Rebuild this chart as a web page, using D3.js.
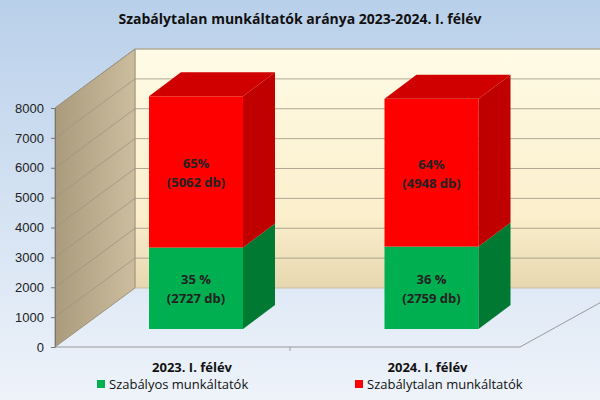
<!DOCTYPE html>
<html><head><meta charset="utf-8">
<script src="https://cdn.jsdelivr.net/npm/d3@7"></script>
<style>body{margin:0}svg{display:block;font-family:"Open Sans",Arial,sans-serif}</style>
</head><body><svg id="c" width="600" height="400"></svg>
<script>
const categories = ["2023. I. félév", "2024. I. félév"];
const regular = [2727, 2759];
const irregular = [5062, 4948];
const regularPct = ["35 %", "36 %"];
const irregularPct = ["65%", "64%"];
const yTicks = [0,1000,2000,3000,4000,5000,6000,7000,8000];
const seriesNames = ["Szabályos munkáltatók", "Szabálytalan munkáltatók"];

const svg = d3.select("#c");
const defs = svg.append("defs");
const bg = defs.append("linearGradient").attr("id","bg").attr("x1",0).attr("y1",0).attr("x2",0).attr("y2",1);
bg.append("stop").attr("offset",0).attr("stop-color","#b9d0ea");
bg.append("stop").attr("offset",1).attr("stop-color","#eef3fa");
const wall = defs.append("linearGradient").attr("id","wall").attr("x1",0).attr("y1",0).attr("x2",0).attr("y2",1);
wall.append("stop").attr("offset",0).attr("stop-color","#fffbe6");
wall.append("stop").attr("offset",0.7).attr("stop-color","#fbefcc");
wall.append("stop").attr("offset",1).attr("stop-color","#e7d7b0");
const lw = defs.append("linearGradient").attr("id","lw").attr("x1",0).attr("y1",0).attr("x2",1).attr("y2",0);
lw.append("stop").attr("offset",0).attr("stop-color","#a99b7c");
lw.append("stop").attr("offset",1).attr("stop-color","#cbbd9d");

svg.append("rect").attr("width",600).attr("height",400).attr("fill","url(#bg)");

const y = d3.scaleLinear().domain([0,8000]).range([347,108]);
const DX = 80, DY = -59;
svg.append("rect").attr("x",55+DX).attr("y",y(8000)+DY).attr("width",600).attr("height",y(0)-y(8000)).attr("fill","url(#wall)").attr("stroke","#c8bfa8");
svg.append("path").attr("d",`M55,${y(0)}L55,${y(8000)}L${55+DX},${y(8000)+DY}L${55+DX},${y(0)+DY}Z`).attr("fill","url(#lw)").attr("stroke","#9d927a");
svg.append("path").attr("d",`M520,${y(0)}L600,${y(0)+DY*0.75}`).attr("stroke","#999").attr("fill","none");
yTicks.slice(1).forEach(t=>{
  svg.append("path").attr("d",`M55,${y(t)}L${55+DX},${y(t)+DY}L600,${y(t)+DY}`).attr("stroke","#9c9484").attr("stroke-width",0.8).attr("fill","none");
});
const ax = svg.append("g").attr("transform","translate(55,0)").call(d3.axisLeft(y).tickValues(yTicks).tickSize(4).tickFormat(d3.format("d")));
ax.selectAll("text").attr("font-size",13).attr("fill","#222").attr("dx",-4);
ax.selectAll("line,path").attr("stroke","#777");
svg.append("line").attr("x1",55).attr("x2",520).attr("y1",y(0)).attr("y2",y(0)).attr("stroke","#999");
svg.append("line").attr("x1",290).attr("x2",290).attr("y1",y(0)).attr("y2",y(0)+4).attr("stroke","#999");

const x = d3.scalePoint().domain(categories).range([196,431.5]);
const w = 94;
const base = 329, k = (y(0)-y(1000))/1000;
const dx = 32, dy = -24;
function box(g, x0, w, y0, y1, front, side, top){
  g.append("rect").attr("x",x0).attr("y",y1).attr("width",w).attr("height",y0-y1).attr("fill",front);
  g.append("path").attr("d",`M${x0+w},${y0}L${x0+w+dx},${y0+dy}L${x0+w+dx},${y1+dy}L${x0+w},${y1}Z`).attr("fill",side);
  if(top) g.append("path").attr("d",`M${x0},${y1}L${x0+dx},${y1+dy}L${x0+w+dx},${y1+dy}L${x0+w},${y1}Z`).attr("fill",top);
}
categories.forEach((c,i)=>{
  const g = svg.append("g");
  const cx = x(c), x0 = cx - w/2;
  const yg = base - regular[i]*k, yr = yg - irregular[i]*k;
  box(g,x0,w,base,yg,"#00b050","#007a33",null);
  box(g,x0,w,yg,yr,"#ff0000","#c00000","#d00000");
  [[regularPct[i],`(${regular[i]} db)`,(base+yg)/2],[irregularPct[i],`(${irregular[i]} db)`,(yg+yr)/2]].forEach(([a,b,m])=>{
    g.append("text").attr("x",cx).attr("y",m-4).attr("text-anchor","middle").attr("font-size",13).attr("font-weight","bold").attr("fill","#222").text(a);
    g.append("text").attr("x",cx).attr("y",m+15).attr("text-anchor","middle").attr("font-size",13).attr("font-weight","bold").attr("fill","#222").text(b);
  });
  svg.append("text").attr("x",cx-4).attr("y",372).attr("text-anchor","middle").attr("font-size",13).attr("font-weight","bold").attr("fill","#111").text(c);
});
svg.append("text").attr("x",300).attr("y",24).attr("text-anchor","middle").attr("font-size",14).attr("font-weight","bold").attr("fill","#111").text("Szabálytalan munkáltatók aránya 2023-2024. I. félév");
const lg = [[seriesNames[0],"#00b050",97],[seriesNames[1],"#ff0000",355]];
lg.forEach(([t,col,lx])=>{
  svg.append("rect").attr("x",lx).attr("y",380).attr("width",8).attr("height",8).attr("fill",col);
  svg.append("text").attr("x",lx+12).attr("y",389).attr("font-size",13).attr("fill","#111").text(t);
});
</script></body></html>
